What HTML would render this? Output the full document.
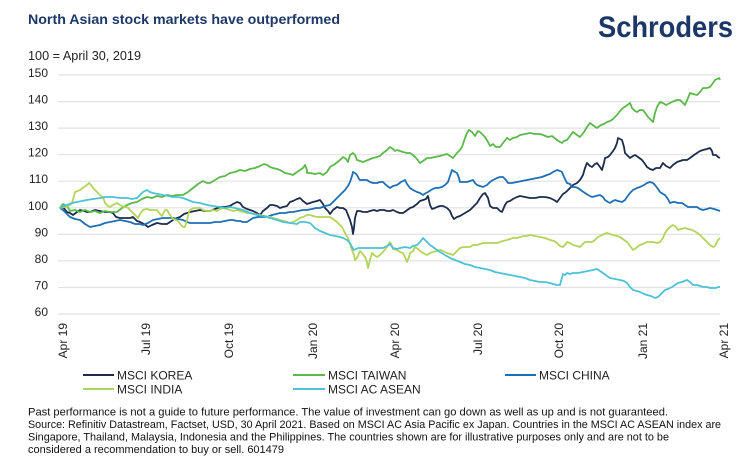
<!DOCTYPE html>
<html><head><meta charset="utf-8"><style>
html,body{margin:0;padding:0;background:#fff;}
svg{display:block;}
text{font-family:"Liberation Sans",Arial,sans-serif;}
</style></head><body>
<svg width="750" height="472" viewBox="0 0 750 472" xmlns="http://www.w3.org/2000/svg">
<rect width="750" height="472" fill="#fff"/>
<text x="28" y="24" font-size="14" font-weight="bold" fill="#1d3767" textLength="312" lengthAdjust="spacingAndGlyphs">North Asian stock markets have outperformed</text>
<text x="598" y="37" font-size="30" font-weight="bold" fill="#1b3668" textLength="135" lengthAdjust="spacingAndGlyphs">Schroders</text>
<text x="28" y="60" font-size="12.5" fill="#222" textLength="113" lengthAdjust="spacingAndGlyphs">100 = April 30, 2019</text>
<g stroke="#e2e2e2" stroke-width="1.2">
<line x1="58" y1="75" x2="720" y2="75"/>
<line x1="58" y1="101.6" x2="720" y2="101.6"/>
<line x1="58" y1="128.1" x2="720" y2="128.1"/>
<line x1="58" y1="154.7" x2="720" y2="154.7"/>
<line x1="58" y1="181.2" x2="720" y2="181.2"/>
<line x1="58" y1="207.8" x2="720" y2="207.8"/>
<line x1="58" y1="234.4" x2="720" y2="234.4"/>
<line x1="58" y1="260.9" x2="720" y2="260.9"/>
<line x1="58" y1="287.5" x2="720" y2="287.5"/>
<line x1="58" y1="314" x2="720" y2="314"/>
</g>
<g font-size="12" fill="#222" text-anchor="end">
<text x="48" y="77">150</text>
<text x="48" y="103.6">140</text>
<text x="48" y="130.1">130</text>
<text x="48" y="156.7">120</text>
<text x="48" y="183.2">110</text>
<text x="48" y="209.8">100</text>
<text x="48" y="236.4">90</text>
<text x="48" y="262.9">80</text>
<text x="48" y="289.5">70</text>
<text x="48" y="316">60</text>
</g>
<g font-size="12" fill="#222" text-anchor="end">
<text transform="translate(67,323) rotate(-90)">Apr 19</text>
<text transform="translate(150,323) rotate(-90)">Jul 19</text>
<text transform="translate(233,323) rotate(-90)">Oct 19</text>
<text transform="translate(317,323) rotate(-90)">Jan 20</text>
<text transform="translate(399,323) rotate(-90)">Apr 20</text>
<text transform="translate(482,323) rotate(-90)">Jul 20</text>
<text transform="translate(563,323) rotate(-90)">Oct 20</text>
<text transform="translate(647,323) rotate(-90)">Jan 21</text>
<text transform="translate(728,323) rotate(-90)">Apr 21</text>
</g>
<g fill="none" stroke-width="1.8" stroke-linejoin="round">
<polyline stroke="#1c2c4c" points="60,208 63,207 67,212 70,213 73,215 77,212 80,210 84,211 87,212 90,212 95,210 100,211 105,212 110,212 113,213 116,217 120,218 125,218 130,218 133,217 137,221 140,222 144,224 148,227 152,225 157,223 162,224 167,224 170,222 173,220 177,218 180,217 184,214 187,213 190,212 195,211 200,210 205,211 210,211 215,209 220,207 225,207 230,206 233,204 237,202 240,203 243,207 247,209 250,210 253,211 257,213 260,215 263,211 267,208 270,205 273,205 277,206 280,208 283,207 287,206 290,202 293,201 297,199 300,198 303,201 307,204 310,203 313,202 317,201 320,200 323,204 325,208 328,211 330,214 333,210 337,207 340,208 343,208 346,210 348,215 350,220 352,227 353,234 354,228 355,218 357,211 360,211 363,212 367,212 370,211 374,210 377,211 380,210 384,210 387,211 390,211 393,210 397,212 400,213 403,213 406,211 410,208 413,207 417,204 420,201 423,200 426,199 428,196 430,205 432,209 435,208 437,207 440,206 443,206 447,208 450,211 452,216 454,219 457,217 460,216 465,213 470,210 473,207 477,203 480,198 483,194 485,193 488,198 490,206 493,208 497,208 500,211 502,212 505,205 507,202 510,201 513,199 517,197 520,196 525,197 530,198 535,198 540,197 545,197 550,198 554,200 557,202 560,198 563,194 566,192 570,188 573,185 577,183 580,180 583,175 585,168 587,163 590,166 592,167 595,164 597,163 600,167 602,170 604,163 605,158 608,157 610,155 613,151 615,148 617,143 618,138 620,139 622,140 624,147 625,153 628,156 630,158 633,156 635,155 638,157 642,160 645,164 647,167 650,169 653,170 656,168 660,168 663,163 666,166 670,168 673,165 677,162 680,161 683,160 687,160 690,158 694,155 697,153 700,151 703,150 707,149 710,148 712,151 713,155 716,155 718,157 720,158"/>
<polyline stroke="#5bb94b" points="60,208 63,204 67,206 70,211 75,210 80,212 85,210 90,212 95,211 100,213 105,211 110,212 117,212 122,208 127,205 132,203 137,202 142,199 147,197 152,198 157,196 162,197 167,195 172,196 177,195 183,195 188,192 193,188 198,184 203,181 207,183 210,183 215,180 220,177 225,176 230,173 235,172 240,170 245,171 250,169 255,168 260,166 264,164 267,165 270,167 273,168 277,169 280,170 285,173 290,174 293,175 297,172 300,170 303,168 305,165 307,170 307,173 310,173 315,174 320,173 323,175 327,172 330,167 335,164 340,160 343,157 346,159 348,162 350,155 353,153 355,155 357,160 360,161 363,162 368,160 373,158 377,157 380,156 383,153 387,150 390,147 393,149 395,151 397,150 400,151 403,152 407,153 410,153 413,155 416,158 420,163 423,161 427,158 430,158 435,157 440,156 443,155 447,154 450,156 453,158 457,153 460,150 462,147 465,138 467,133 469,130 472,132 475,136 478,131 480,132 483,135 485,137 488,142 490,146 493,144 496,147 500,147 503,143 507,138 510,140 513,138 517,137 520,135 525,134 530,133 535,134 540,134 543,135 548,137 552,136 557,140 560,142 562,143 564,141 567,140 570,136 573,132 577,135 580,137 584,132 587,127 590,123 594,126 597,128 601,125 604,124 607,122 610,121 613,119 617,115 620,111 623,108 626,106 630,103 632,108 635,111 637,112 640,110 643,110 646,114 648,117 651,120 653,122 655,113 657,107 660,102 663,103 666,105 670,103 674,101 677,100 680,100 683,103 685,105 688,98 690,93 693,94 697,95 700,92 703,88 707,88 710,87 713,83 715,80 717,79 719,78 720,80"/>
<polyline stroke="#1e6fb3" points="60,208 63,210 67,214 70,217 75,219 80,220 85,224 90,227 95,226 100,225 105,223 110,222 115,221 120,220 125,221 130,222 135,224 140,224 143,225 148,223 153,220 158,219 163,218 168,218 173,218 178,219 183,220 187,222 190,223 195,223 200,223 205,223 210,223 215,222 220,222 225,221 230,220 233,220 237,221 240,221 243,222 247,222 250,220 253,218 258,217 263,217 267,217 272,215 276,214 280,213 285,213 290,212 293,212 298,211 303,210 307,210 312,209 316,208 320,208 325,206 330,205 334,201 338,197 342,193 345,190 348,186 350,182 352,176 353,172 355,173 357,175 359,179 360,180 363,180 367,180 370,182 373,183 377,183 380,182 383,182 386,185 390,188 393,186 397,185 401,182 405,180 407,184 410,188 413,190 417,192 420,193 423,195 426,193 428,192 431,190 435,188 438,188 442,187 445,185 448,182 450,176 452,170 455,172 457,173 459,178 460,182 463,182 467,182 470,181 473,180 475,183 477,185 480,186 483,187 487,185 490,182 493,180 497,178 500,177 503,177 506,180 508,183 512,183 517,182 522,181 527,180 532,179 537,178 542,177 547,175 550,174 553,172 555,171 557,170 560,171 562,172 564,177 567,183 570,184 572,187 575,187 578,188 582,191 585,193 588,195 592,197 596,196 600,195 603,197 605,200 608,202 610,203 613,201 615,200 618,201 622,202 625,200 627,197 630,193 633,190 637,188 640,187 644,185 647,183 650,182 653,183 655,185 658,189 660,192 663,194 665,195 668,199 670,203 673,202 675,202 678,203 682,203 685,205 688,207 692,207 697,207 700,209 703,210 707,209 710,208 714,209 717,210 720,211"/>
<polyline stroke="#b3d45a" points="60,208 64,207 67,207 70,205 72,203 74,196 75,192 78,191 80,190 84,187 87,185 89,183 91,185 93,188 96,191 98,193 101,196 103,197 105,203 108,206 110,207 113,205 117,203 120,205 124,207 127,207 130,210 133,213 136,216 138,218 140,214 143,210 147,209 150,210 154,210 157,210 160,214 162,216 165,210 167,210 170,215 173,219 176,220 178,221 181,225 183,227 185,227 187,220 189,212 190,210 194,208 197,208 200,208 203,210 207,211 210,211 213,210 217,211 220,209 223,208 227,209 230,210 234,211 237,210 240,211 243,212 247,213 250,213 255,214 260,215 265,216 270,217 273,218 277,219 280,220 284,221 287,222 290,223 293,222 297,220 300,218 303,217 307,215 310,215 313,216 317,217 320,217 323,217 327,217 330,217 333,219 337,222 340,225 342,227 345,233 348,238 350,244 352,250 354,255 355,260 357,258 360,251 362,253 365,257 367,262 368,268 370,260 372,253 374,255 377,257 380,255 383,252 387,247 390,242 392,246 393,249 397,250 400,252 403,253 405,257 407,262 409,257 410,253 413,251 415,247 418,249 420,251 423,253 427,255 430,253 433,252 437,251 440,250 443,251 447,253 450,254 453,255 457,251 460,248 463,247 467,247 470,247 473,245 477,245 480,244 483,243 487,243 490,243 493,243 497,243 500,242 503,241 507,240 510,239 513,238 517,238 520,237 524,236 527,236 530,235 535,236 540,237 545,238 550,240 554,241 557,243 560,246 563,247 565,245 567,242 570,243 573,245 577,246 580,247 583,244 585,242 589,242 592,242 595,240 598,237 602,235 607,233 610,234 613,235 617,236 620,237 624,240 627,242 630,246 633,250 636,248 640,245 643,244 647,242 650,242 653,242 657,243 660,242 663,238 665,233 667,230 670,227 673,225 676,227 678,230 681,229 685,228 688,229 692,230 696,232 700,235 703,238 707,242 710,245 713,247 715,246 717,242 718,240 720,238"/>
<polyline stroke="#4dc1d6" points="60,208 64,206 67,205 72,203 77,202 82,201 87,200 93,199 100,198 106,197 113,197 120,198 127,198 132,199 137,198 140,195 143,192 147,190 150,192 153,193 158,194 163,195 168,196 173,197 178,197 183,198 188,200 193,202 200,203 207,205 213,206 220,207 225,208 230,207 235,208 243,210 250,213 257,215 263,216 270,218 277,220 283,222 290,223 297,224 300,222 305,222 310,223 315,228 320,231 325,233 330,235 335,236 340,237 343,238 347,240 350,243 352,247 354,250 356,249 358,248 363,248 368,248 373,248 378,248 383,248 387,246 390,244 393,248 397,249 400,248 405,247 410,248 413,246 417,245 420,242 423,238 426,241 430,245 433,247 437,250 440,252 445,255 450,258 455,260 460,262 465,264 470,265 475,267 480,268 485,269 490,270 495,272 500,273 505,274 510,275 515,276 520,277 525,278 530,280 535,281 540,282 545,282 550,283 553,284 557,285 560,285 561,281 563,274 565,275 567,273 570,274 573,273 578,273 583,272 588,271 593,270 597,269 600,271 603,273 607,276 610,278 615,279 620,280 624,281 627,283 630,287 633,290 637,291 640,292 644,294 647,295 651,296 655,298 658,297 660,295 663,292 665,290 668,289 672,287 675,285 678,283 682,282 687,280 690,282 693,285 697,285 700,286 703,287 707,287 710,288 713,288 716,288 718,287 720,287"/>
</g>
<g stroke-width="2">
<line x1="83" y1="375" x2="114" y2="375" stroke="#1c2c4c"/>
<line x1="293" y1="375" x2="325" y2="375" stroke="#5bb94b"/>
<line x1="505" y1="375" x2="536" y2="375" stroke="#1e6fb3"/>
<line x1="83" y1="389" x2="114" y2="389" stroke="#b3d45a"/>
<line x1="293" y1="389" x2="325" y2="389" stroke="#4dc1d6"/>
</g>
<g font-size="12" fill="#222">
<text x="117" y="379.5">MSCI KOREA</text>
<text x="328" y="379.5">MSCI TAIWAN</text>
<text x="539" y="379.5">MSCI CHINA</text>
<text x="117" y="393.5">MSCI INDIA</text>
<text x="328" y="393.5">MSCI AC ASEAN</text>
</g>
<g font-size="11" fill="#111">
<text x="28" y="415.5" textLength="640" lengthAdjust="spacingAndGlyphs">Past performance is not a guide to future performance. The value of investment can go down as well as up and is not guaranteed.</text>
<text x="28" y="428" textLength="693" lengthAdjust="spacingAndGlyphs">Source: Refinitiv Datastream, Factset, USD, 30 April 2021. Based on MSCI AC Asia Pacific ex Japan. Countries in the MSCI AC ASEAN index are</text>
<text x="28" y="440.5" textLength="641" lengthAdjust="spacingAndGlyphs">Singapore, Thailand, Malaysia, Indonesia and the Philippines. The countries shown are for illustrative purposes only and are not to be</text>
<text x="28" y="453" textLength="256" lengthAdjust="spacingAndGlyphs">considered a recommendation to buy or sell. 601479</text>
</g>
</svg>
</body></html>
